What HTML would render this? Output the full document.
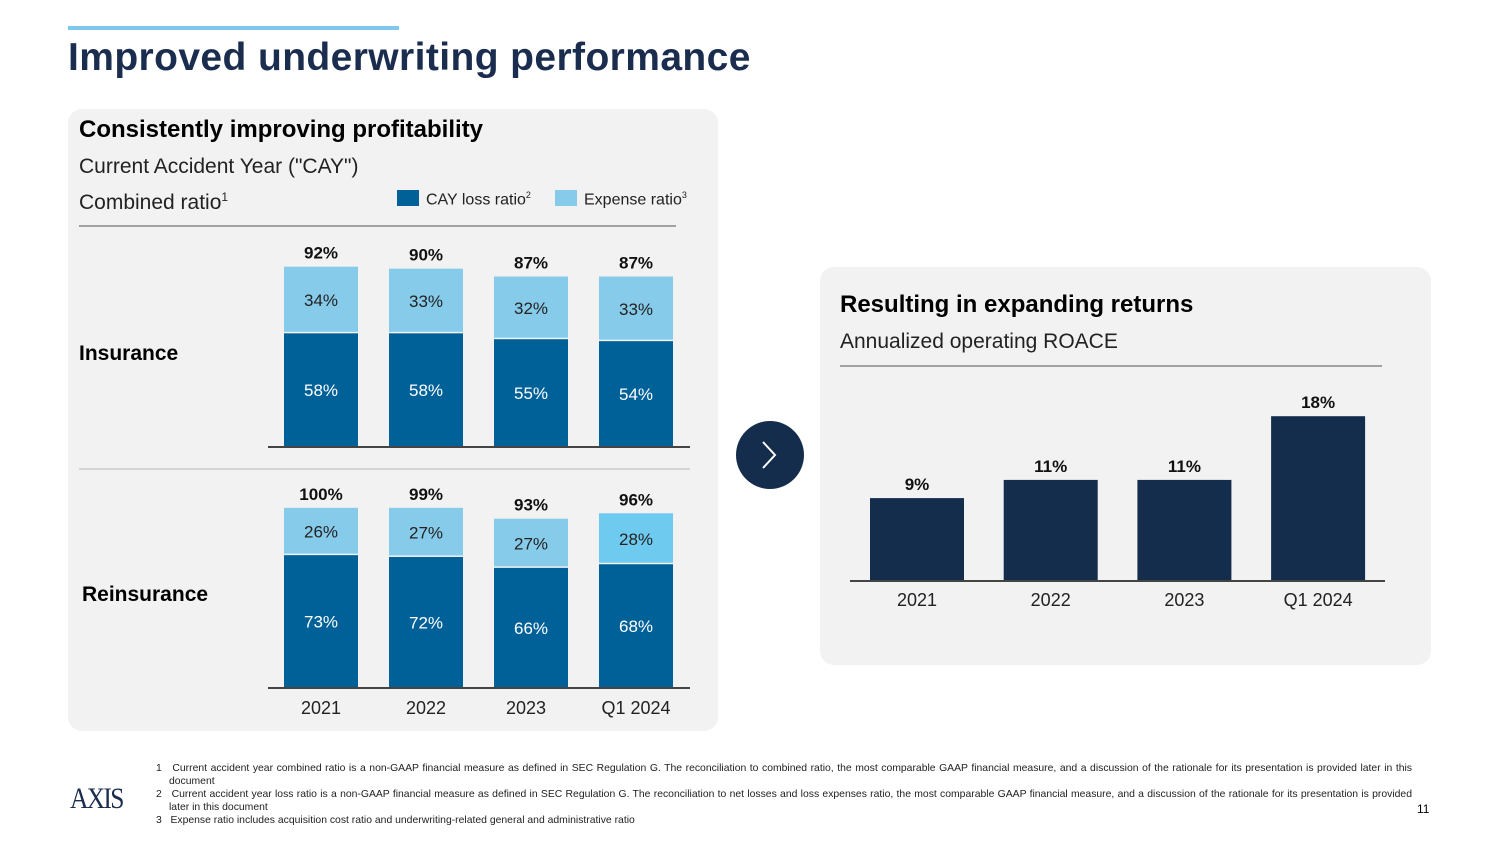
<!DOCTYPE html>
<html><head><meta charset="utf-8"><style>
body{margin:0;width:1500px;height:844px;background:#fff;font-family:"Liberation Sans","DejaVu Sans",sans-serif;position:relative;overflow:hidden}
.abs{position:absolute}
</style></head><body>
<div class="abs" style="left:68px;top:26px;width:331px;height:4px;background:#7fc8ea"></div>
<div class="abs" style="left:68px;top:36px;font-size:39px;font-weight:bold;color:#1b2d4f;letter-spacing:0.4px">Improved underwriting performance</div>
<div class="abs" style="left:68px;top:109px;width:650px;height:622px;background:#f2f2f2;border-radius:14px"></div>
<div class="abs" style="left:820px;top:267px;width:611px;height:398px;background:#f2f2f2;border-radius:14px"></div>
<div class="abs" style="left:736px;top:421px;width:68px;height:68px;border-radius:50%;background:#142d4c"></div>
<svg class="abs" style="left:0;top:0" width="1500" height="844">
<polyline points="763,442 775,455 763,468" fill="none" stroke="#fff" stroke-width="2"/>
<g id="g"></g>
</svg>
<div class="abs" style="left:79px;top:116px;font-size:24px;font-weight:bold;color:#000">Consistently improving profitability</div>
<div class="abs" style="left:79px;top:155px;font-size:21px;color:#222">Current Accident Year ("CAY")</div>
<div class="abs" style="left:79px;top:190px;font-size:21px;color:#222">Combined ratio<sup style="font-size:12px">1</sup></div>
<div class="abs" style="left:397px;top:190px;font-size:16px;color:#222"><span style="display:inline-block;width:22px;height:16px;background:#006199;vertical-align:-2px;margin-right:7px"></span>CAY loss ratio<sup style="font-size:9px">2</sup></div>
<div class="abs" style="left:555px;top:190px;font-size:16px;color:#222"><span style="display:inline-block;width:22px;height:16px;background:#87cbeb;vertical-align:-2px;margin-right:7px"></span>Expense ratio<sup style="font-size:9px">3</sup></div>
<div class="abs" style="left:79px;top:342px;font-size:21px;font-weight:bold">Insurance</div>
<div class="abs" style="left:82px;top:583px;font-size:21px;font-weight:bold">Reinsurance</div>
<div class="abs" style="left:840px;top:291px;font-size:24px;font-weight:bold">Resulting in expanding returns</div>
<div class="abs" style="left:840px;top:330px;font-size:21px;color:#222">Annualized operating ROACE</div>
<div class="abs" style="left:70px;top:782px;font-family:'Liberation Serif',serif;font-size:30px;color:#1b2d4f;letter-spacing:-2px;transform:scaleX(0.85);transform-origin:left">AXIS</div>
<div class="abs" style="left:156px;top:762px;width:1256px;font-size:10.4px;line-height:13px;color:#222;text-align:justify">
<div style="padding-left:13px;text-indent:-13px">1&nbsp;&nbsp; Current accident year combined ratio is a non-GAAP financial measure as defined in SEC Regulation G. The reconciliation to combined ratio, the most comparable GAAP financial measure, and a discussion of the rationale for its presentation is provided later in this document</div>
<div style="padding-left:13px;text-indent:-13px">2&nbsp;&nbsp; Current accident year loss ratio is a non-GAAP financial measure as defined in SEC Regulation G. The reconciliation to net losses and loss expenses ratio, the most comparable GAAP financial measure, and a discussion of the rationale for its presentation is provided later in this document</div>
<div style="padding-left:13px;text-indent:-13px">3&nbsp;&nbsp; Expense ratio includes acquisition cost ratio and underwriting-related general and administrative ratio</div>
</div>
<div class="abs" style="left:1417px;top:802px;font-size:12px">11</div>
<script>
const years=["2021","2022","2023","Q1 2024"];
const insLoss=[58,58,55,54];
const insExp=[34,33,32,33];
const insTotal=[92,90,87,87];
const reLoss=[73,72,66,68];
const reExp=[26,27,27,28];
const reTotal=[100,99,93,96];
const roace=[9,11,11,18];
const roaceLabels=["9%","11%","11%","18%"];
const g=document.getElementById('g');
const NS='http://www.w3.org/2000/svg';
function mk(t,a,txt){const e=document.createElementNS(NS,t);for(const k in a)e.setAttribute(k,a[k]);if(txt!=null)e.textContent=txt;g.appendChild(e);return e;}
function line(x1,y1,x2,y2,c,w){const e=mk('line',{x1,y1,x2,y2,stroke:c,'stroke-width':w});}
line(79,226,676,226,'#888',1.5);
line(79,469,690,469,'#bbb',1);
line(840,366,1382,366,'#888',1.5);
const bx=i=>284+i*105;
function stack(loss,exp,tot,base,sc,name,hiLast){
 for(let i=0;i<years.length;i++){
  const x=bx(i),hl=loss[i]*sc,he=exp[i]*sc,yl=base-hl,ye=yl-he;
  let r=mk('rect',{x,y:yl,width:74,height:hl,fill:'#006199'});
  
  r=mk('rect',{x,y:ye,width:74,height:he-1.5,fill:(hiLast&&i==3)?'#6fcaf0':'#87cbeb'});
  
  let t=mk('text',{x:x+37,y:yl+hl/2+6,'text-anchor':'middle','font-size':17,fill:'#fff'},loss[i]+'%');
  
  t=mk('text',{x:x+37,y:ye+he/2+6,'text-anchor':'middle','font-size':17,fill:'#222'},exp[i]+'%');
  
  t=mk('text',{x:x+37,y:ye-8,'text-anchor':'middle','font-size':17,'font-weight':'bold',fill:'#111'},tot[i]+'%');
  
 }
 line(268,base,690,base,'#444',2);
}
stack(insLoss,insExp,insTotal,447,1.96,'insurance',false);
stack(reLoss,reExp,reTotal,688,1.82,'reinsurance',true);
years.forEach((y,i)=>{const t=mk('text',{x:bx(i)+37-(i==2?5:0),y:714,'text-anchor':'middle','font-size':18,fill:'#222'},y);
 });
const rx=i=>870+i*133.7;
roace.forEach((v,i)=>{const h=v*9.1,x=rx(i);
 const r=mk('rect',{x,y:580-h,width:94,height:h,fill:'#142d4c'});
 
 let t=mk('text',{x:x+47,y:580-h-8,'text-anchor':'middle','font-size':17,'font-weight':'bold',fill:'#111'},roaceLabels[i]);
 
 t=mk('text',{x:x+47,y:606,'text-anchor':'middle','font-size':18,fill:'#222'},years[i]);
 
});
line(850,581,1385,581,'#444',2);
</script>
</body></html>
